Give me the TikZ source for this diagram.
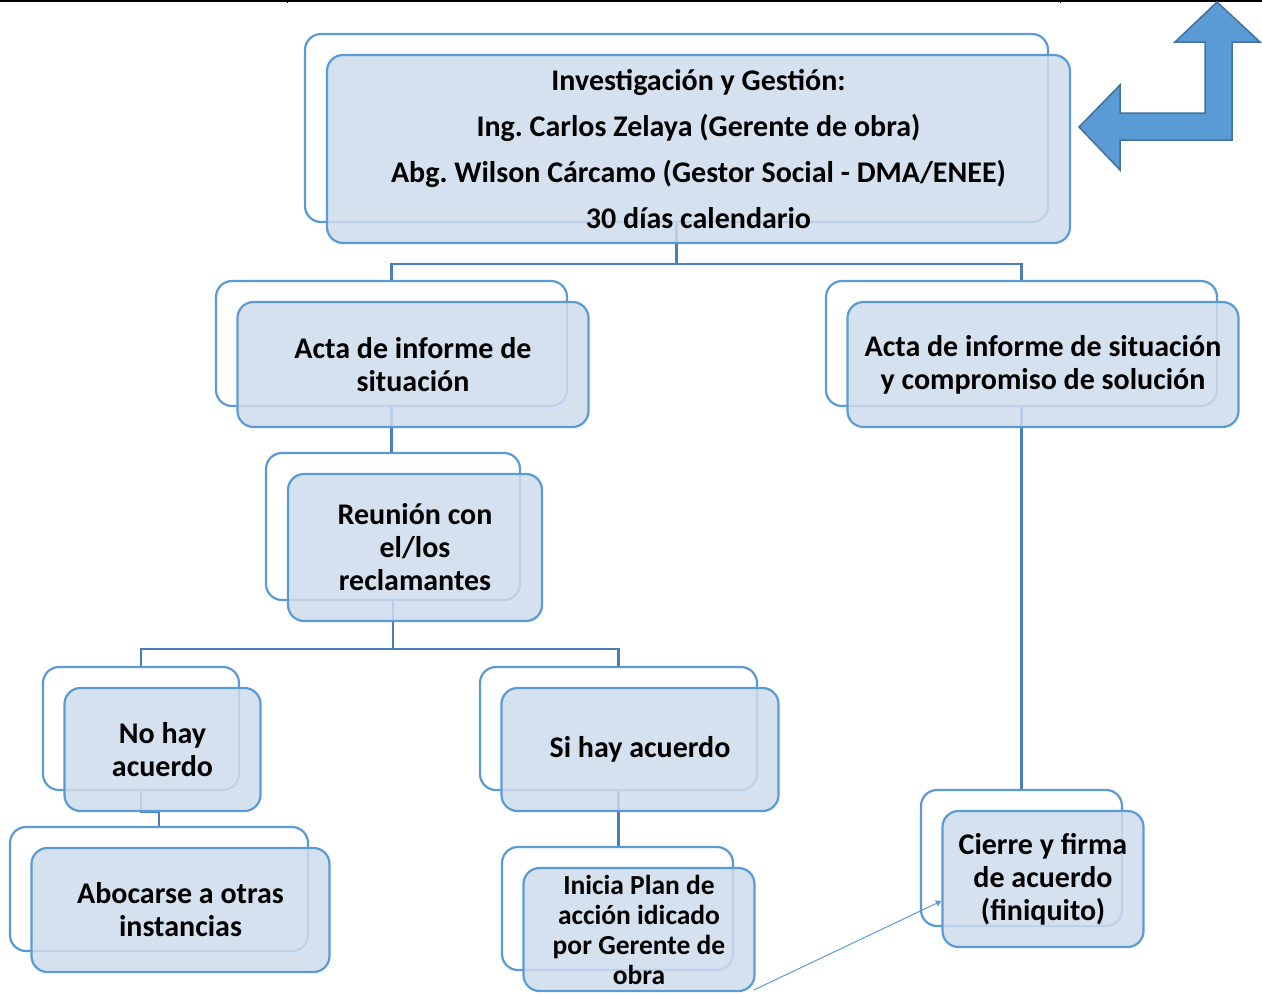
\documentclass[tikz,border=0pt]{standalone}
\usepackage{fontspec}
\setmainfont{Carlito}
\usepackage{xcolor}
\usepackage{tikz}
\usetikzlibrary{arrows.meta}

\definecolor{boxline}{RGB}{91,155,213}
\definecolor{connline}{RGB}{74,126,187}
\definecolor{boxfill}{RGB}{207,220,237}
\definecolor{arrowline}{RGB}{65,113,156}

\frenchspacing

\begin{document}
\begin{tikzpicture}[
    x=1pt,y=-1pt,
    >=Triangle,
    back/.style={draw=boxline,line width=2.2pt,fill=white,rounded corners=16pt,inner sep=0pt},
    front/.style={draw=boxline,line width=2.2pt,fill=boxfill,fill opacity=0.85,text opacity=1,rounded corners=16pt,inner sep=0pt,align=center,font=\bfseries\fontsize{30}{33}\selectfont},
    conn/.style={draw=connline,line width=2.2pt},
    bigarrow/.style={draw=arrowline,line width=1.5pt,fill=boxline,line join=miter}
]
    \useasboundingbox (0,0) rectangle (1262,994);

    % Page border
    \draw[line width=1.5pt] (0,0.75) -- (1262,0.75);
    \draw[line width=1pt] (287,0) -- (287,3) (1060,0) -- (1060,3);

    % Back boxes
    \node[back,minimum width=743pt,minimum height=188pt] (topB) at (676.5,128) {};
    \node[back,minimum width=351pt,minimum height=125pt] (actaLB) at (391.5,343.5) {};
    \node[back,minimum width=391pt,minimum height=125pt] (actaRB) at (1021.5,343.5) {};
    \node[back,minimum width=254pt,minimum height=147pt] (reuB) at (393,526.5) {};
    \node[back,minimum width=196pt,minimum height=123pt] (nohayB) at (141,728.5) {};
    \node[back,minimum width=277pt,minimum height=123pt] (sihayB) at (618.5,728.5) {};
    \node[back,minimum width=298pt,minimum height=124pt] (abocB) at (159,889) {};
    \node[back,minimum width=231pt,minimum height=123pt] (iniciaB) at (617.5,908.5) {};
    \node[back,minimum width=201pt,minimum height=136pt] (cierreB) at (1021.5,858) {};

    % Connectors
    \draw[conn] (topB.south) -- ++(0,41) -| (actaLB.north);
    \draw[conn] (topB.south) -- ++(0,41) -| (actaRB.north);
    \draw[conn] (actaLB.south) -- (actaLB.south |- reuB.north);
    \draw[conn] (reuB.south) -- ++(0,48) -| (nohayB.north);
    \draw[conn] (reuB.south) -- ++(0,48) -| (sihayB.north);
    \draw[conn] (nohayB.south) -- ++(0,21) -| (abocB.north);
    \draw[conn] (sihayB.south) -- (sihayB.south |- iniciaB.north);
    \draw[conn] (actaRB.south) -- (cierreB.north);

    % Front boxes
    \node[front,minimum width=743pt,minimum height=188pt,font=\bfseries\fontsize{30}{46}\selectfont] (topF) at ([shift={(22,21)}]topB.center)
        {Investigación y Gestión:\\Ing. Carlos Zelaya (Gerente de obra)\\Abg. Wilson Cárcamo (Gestor Social - DMA/ENEE)\\30 días calendario};
    \node[front,minimum width=351pt,minimum height=125pt] (actaLF) at ([shift={(21.5,21)}]actaLB.center) {Acta de informe de\\situación};
    \node[front,minimum width=391pt,minimum height=125pt] (actaRF) at ([shift={(21.5,21)}]actaRB.center) {Acta de informe de situación\\y compromiso de solución};
    \node[front,minimum width=254pt,minimum height=147pt] (reuF) at ([shift={(22,21)}]reuB.center) {Reunión con\\el/los\\reclamantes};
    \node[front,minimum width=196pt,minimum height=123pt] (nohayF) at ([shift={(21.5,21)}]nohayB.center) {No hay\\acuerdo};
    \node[front,minimum width=277pt,minimum height=123pt] (sihayF) at ([shift={(21.5,21)}]sihayB.center) {Si hay acuerdo};
    \node[front,minimum width=298pt,minimum height=124pt] (abocF) at ([shift={(21.5,21)}]abocB.center) {Abocarse a otras\\instancias};
    \node[front,minimum width=231pt,minimum height=123pt,font=\bfseries\fontsize{27.5}{30}\selectfont] (iniciaF) at ([shift={(21.5,21)}]iniciaB.center)
        {Inicia Plan de\\acción idicado\\por Gerente de\\obra};
    \node[front,minimum width=201pt,minimum height=136pt] (cierreF) at ([shift={(21.5,21)}]cierreB.center) {Cierre y firma\\de acuerdo\\(finiquito)};

    % Link to closing
    \draw[->,boxline,line width=1pt] ([shift={(-2,-2)}]iniciaF.south east) -- ([shift={(0,22)}]cierreF.west);

    % Return arrow
    \draw[bigarrow] (1079,127) -- (1120,85) -- (1120,113) -- (1205,113) -- (1205,42) -- (1175,42)
        -- (1217,2) -- (1260,42) -- (1232,42) -- (1232,140) -- (1120,140) -- (1120,170) -- cycle;
\end{tikzpicture}
\end{document}
